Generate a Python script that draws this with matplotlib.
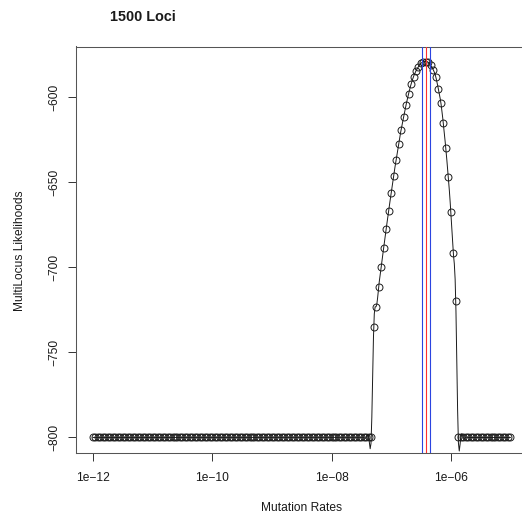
import numpy as np
import matplotlib
matplotlib.use("Agg")
import matplotlib.pyplot as plt

# Grid of mutation rates (log-spaced, 24 steps per decade)
mutation_rates = np.logspace(-12, -5, 169)

# Multilocus log-likelihood at each rate
multilocus_likelihoods = [
    -800.0, -800.0, -800.0, -800.0, -800.0, -800.0, -800.0, -800.0, -800.0, -800.0,
    -800.0, -800.0, -800.0, -800.0, -800.0, -800.0, -800.0, -800.0, -800.0, -800.0,
    -800.0, -800.0, -800.0, -800.0, -800.0, -800.0, -800.0, -800.0, -800.0, -800.0,
    -800.0, -800.0, -800.0, -800.0, -800.0, -800.0, -800.0, -800.0, -800.0, -800.0,
    -800.0, -800.0, -800.0, -800.0, -800.0, -800.0, -800.0, -800.0, -800.0, -800.0,
    -800.0, -800.0, -800.0, -800.0, -800.0, -800.0, -800.0, -800.0, -800.0, -800.0,
    -800.0, -800.0, -800.0, -800.0, -800.0, -800.0, -800.0, -800.0, -800.0, -800.0,
    -800.0, -800.0, -800.0, -800.0, -800.0, -800.0, -800.0, -800.0, -800.0, -800.0,
    -800.0, -800.0, -800.0, -800.0, -800.0, -800.0, -800.0, -800.0, -800.0, -800.0,
    -800.0, -800.0, -800.0, -800.0, -800.0, -800.0, -800.0, -800.0, -800.0, -800.0,
    -800.0, -800.0, -800.0, -800.0, -800.0, -800.0, -800.0, -800.0, -800.0, -800.0,
    -800.0, -800.0, -800.0,
    -734.9, -723.1, -711.3, -699.8, -688.4, -677.4, -666.7, -656.4, -646.1, -636.9,
    -627.6, -619.2, -611.8, -604.5, -598.1, -592.4, -587.9, -584.5, -582.0, -580.0,
    -579.2, -579.0, -579.5, -581.3, -584.0, -588.2, -595.1, -603.1, -615.4, -630.1,
    -646.9, -667.3, -691.4, -719.6,
    -800.0, -800.0, -800.0, -800.0, -800.0, -800.0, -800.0, -800.0, -800.0, -800.0,
    -800.0, -800.0, -800.0, -800.0, -800.0, -800.0, -800.0, -800.0, -800.0, -800.0,
    -800.0, -800.0,
]
assert len(multilocus_likelihoods) == len(mutation_rates)

# Maximum-likelihood estimate and its interval bounds
mle_rate = 3.85e-7
interval_rates = [3.27e-7, 4.50e-7]

x_ticks = [1e-12, 1e-10, 1e-08, 1e-06]
x_tick_labels = ["1e\u221212", "1e\u221210", "1e\u221208", "1e\u221206"]
y_ticks = [-800, -750, -700, -650, -600]
y_tick_labels = ["\u2212800", "\u2212750", "\u2212700", "\u2212650", "\u2212600"]


def natural_spline(x, y, n_out):
    """Natural cubic spline through (x, y), sampled at n_out even points."""
    x = np.asarray(x, float)
    y = np.asarray(y, float)
    n = len(x)
    h = np.diff(x)
    A = np.zeros((n, n))
    b = np.zeros(n)
    A[0, 0] = A[-1, -1] = 1.0
    for i in range(1, n - 1):
        A[i, i - 1] = h[i - 1]
        A[i, i] = 2 * (h[i - 1] + h[i])
        A[i, i + 1] = h[i]
        b[i] = 6 * ((y[i + 1] - y[i]) / h[i] - (y[i] - y[i - 1]) / h[i - 1])
    M = np.linalg.solve(A, b)
    xs = np.linspace(x[0], x[-1], n_out)
    idx = np.clip(np.searchsorted(x, xs) - 1, 0, n - 2)
    x0, x1 = x[idx], x[idx + 1]
    hh = x1 - x0
    a = (x1 - xs) / hh
    c = (xs - x0) / hh
    ys = (a * y[idx] + c * y[idx + 1]
          + ((a ** 3 - a) * M[idx] + (c ** 3 - c) * M[idx + 1]) * hh ** 2 / 6)
    return xs, ys


W, H = 522, 521
fig = plt.figure(figsize=(W / 100, H / 100), dpi=100)
plt.rcParams["font.family"] = ["Liberation Sans", "DejaVu Sans"]

ax_left, ax_right, ax_top, ax_bottom = 76.3, 527.1, 46.5, 452.5
ax = fig.add_axes([ax_left / W, 1 - ax_bottom / H,
                   (ax_right - ax_left) / W, (ax_bottom - ax_top) / H])

log_rates = np.log10(mutation_rates)
lik = np.asarray(multilocus_likelihoods)

# smooth curve through the likelihood profile
xs, ys = natural_spline(log_rates, lik, 3 * len(log_rates))
ax.plot(10 ** xs, ys, color="#1a1a1a", lw=0.7, zorder=2)
ax.plot(mutation_rates, lik, linestyle="none", marker="o", ms=5.0,
        mfc="none", mec="#1a1a1a", mew=0.7, zorder=3)

for r in interval_rates:
    ax.axvline(r, color="#2b44e0", lw=0.8, zorder=4)
ax.axvline(mle_rate, color="#ff3030", lw=0.8, zorder=4)

ax.set_xscale("log")
lo, hi = log_rates.min(), log_rates.max()
pad_x = 0.04 * (hi - lo)
ax.set_xlim(10 ** (lo - pad_x), 10 ** (hi + pad_x))
ymin, ymax = lik.min(), lik.max()
pad_y = 0.04 * (ymax - ymin)
ax.set_ylim(ymin - pad_y, ymax + pad_y)

ax.set_xticks(x_ticks)
ax.set_xticklabels(x_tick_labels)
ax.xaxis.set_minor_locator(matplotlib.ticker.NullLocator())
ax.set_yticks(y_ticks)
ax.set_yticklabels(y_tick_labels, rotation=90, va="center")

ax.tick_params(axis="both", direction="out", length=6.1, width=0.7,
               color="#333333", labelsize=8.64, labelcolor="#1a1a1a")
ax.tick_params(axis="x", pad=8.0)
ax.tick_params(axis="y", pad=5.3)

for sp in ax.spines.values():
    sp.set_color("#555555")
    sp.set_linewidth(0.75)

fig.text(110 / W, 1 - 16.7 / H, "1500 Loci", ha="left", va="center",
         fontsize=10.4, fontweight="bold", color="#1a1a1a")
fig.text(((ax_left + ax_right) / 2) / W, 1 - 508.3 / H, "Mutation Rates",
         ha="center", va="center", fontsize=8.64, color="#1a1a1a")
fig.text(20.5 / W, 1 - 251 / H, "MultiLocus Likelihoods", ha="center",
         va="center", rotation=90, fontsize=8.64, color="#1a1a1a")

fig.savefig("out.png", dpi=100)
